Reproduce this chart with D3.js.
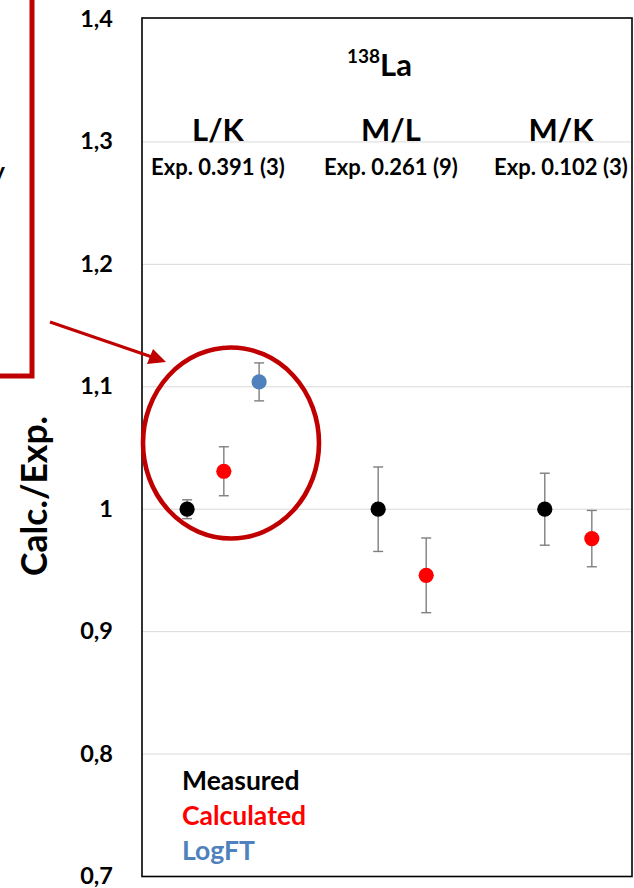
<!DOCTYPE html>
<html>
<head>
<meta charset="utf-8">
<script src="https://cdn.jsdelivr.net/npm/d3@7"></script>
<style>
  body { margin: 0; background: #fff; }
  svg text { font-family: Lato, "Open Sans", sans-serif; font-weight: bold; }
</style>
</head>
<body>
<svg id="chart" width="634" height="888"></svg>
<script>
// ---- data ----
var groups = ["L/K", "M/L", "M/K"],
	expLabels = ["Exp. 0.391 (3)", "Exp. 0.261 (9)", "Exp. 0.102 (3)"],
	groupX = [1.55, 5.08, 8.55];

var seriesNames = ["Measured", "Calculated", "LogFT"],
	seriesColors = ["#000000", "#ff0000", "#4f81bd"];

// x position inside the plot, ratio, +/- error
var measuredX = [0.92, 4.82, 8.22],
	measuredY = [1.0, 1.0, 1.0],
	measuredErr = [0.0077, 0.0345, 0.0294];

var calculatedX = [1.67, 5.80, 9.18],
	calculatedY = [1.031, 0.946, 0.976],
	calculatedErr = [0.020, 0.0305, 0.023];

var logftX = [2.39],
	logftY = [1.104],
	logftErr = [0.0155];

var yTicks = [0.7, 0.8, 0.9, 1.0, 1.1, 1.2, 1.3, 1.4];

// ---- layout ----
var svg = d3.select("#chart");
var plot = {left: 142, right: 632, top: 19.5, bottom: 876.5};

var x = d3.scaleLinear().domain([0, 10]).range([plot.left, plot.right]);
var y = d3.scaleLinear().domain([0.7, 1.4]).range([plot.bottom, plot.top]);

var fmt = function(d) { return d === 1 ? "1" : d3.format(".1f")(d).replace(".", ","); };

// gridlines
svg.append("g")
	.selectAll("line")
	.data(yTicks.filter(function(d) { return d > 0.7 && d < 1.4; }))
	.enter().append("line")
	.attr("x1", plot.left).attr("x2", plot.right)
	.attr("y1", function(d) { return y(d); })
	.attr("y2", function(d) { return y(d); })
	.attr("stroke", "#d9d9d9")
	.attr("stroke-width", 1);

// y axis labels (no tick marks)
var yAxis = d3.axisLeft(y).tickValues(yTicks).tickFormat(fmt).tickSize(0).tickPadding(29);
var ay = svg.append("g").attr("transform", "translate(" + plot.left + ",0)").call(yAxis);
ay.select(".domain").remove();
ay.selectAll("text")
	.attr("font-family", "Lato")
	.attr("font-weight", "bold")
	.attr("font-size", 23.5)
	.attr("dy", "0.3em")
	.attr("fill", "#000");

// plot frame
svg.append("rect")
	.attr("x", plot.left).attr("y", plot.top - 1.5)
	.attr("width", plot.right - plot.left)
	.attr("height", plot.bottom - plot.top + 1.5)
	.attr("fill", "none")
	.attr("stroke", "#000")
	.attr("stroke-width", 1.6);

// y axis title
svg.append("text")
	.attr("transform", "translate(47,496) rotate(-90)")
	.attr("text-anchor", "middle")
	.attr("font-size", 35.5)
	.text("Calc./Exp.");

// isotope title
var title = svg.append("text").attr("x", 347).attr("y", 76);
title.append("tspan").attr("font-size", 19).attr("dy", -13).text("138");
title.append("tspan").attr("font-size", 31).attr("dy", 13).text("La");

// group labels
svg.append("g").selectAll("text")
	.data(groups).enter().append("text")
	.attr("x", function(d, i) { return x(groupX[i]); })
	.attr("y", 141)
	.attr("text-anchor", "middle")
	.attr("font-size", 31)
	.text(function(d) { return d; });

svg.append("g").selectAll("text")
	.data(expLabels).enter().append("text")
	.attr("x", function(d, i) { return x(groupX[i]); })
	.attr("y", 175)
	.attr("text-anchor", "middle")
	.attr("font-size", 22)
	.text(function(d) { return d; });

// points with error bars
var series = [
	{xs: measuredX, ys: measuredY, es: measuredErr, color: seriesColors[0]},
	{xs: calculatedX, ys: calculatedY, es: calculatedErr, color: seriesColors[1]},
	{xs: logftX, ys: logftY, es: logftErr, color: seriesColors[2]}
];

var cap = 5;
series.forEach(function(s) {
	var pts = s.xs.map(function(v, i) { return {x: v, y: s.ys[i], e: s.es[i]}; });
	var g = svg.append("g");
	var eb = g.selectAll("g.err").data(pts).enter().append("g")
		.attr("stroke", "#7f7f7f").attr("stroke-width", 1.4);
	eb.append("line")
		.attr("x1", function(d) { return x(d.x); }).attr("x2", function(d) { return x(d.x); })
		.attr("y1", function(d) { return y(d.y + d.e); }).attr("y2", function(d) { return y(d.y - d.e); });
	eb.append("line")
		.attr("x1", function(d) { return x(d.x) - cap; }).attr("x2", function(d) { return x(d.x) + cap; })
		.attr("y1", function(d) { return y(d.y + d.e); }).attr("y2", function(d) { return y(d.y + d.e); });
	eb.append("line")
		.attr("x1", function(d) { return x(d.x) - cap; }).attr("x2", function(d) { return x(d.x) + cap; })
		.attr("y1", function(d) { return y(d.y - d.e); }).attr("y2", function(d) { return y(d.y - d.e); });
	g.selectAll("circle").data(pts).enter().append("circle")
		.attr("cx", function(d) { return x(d.x); })
		.attr("cy", function(d) { return y(d.y); })
		.attr("r", 7.6)
		.attr("fill", s.color);
});

// legend (text only)
svg.append("g").selectAll("text")
	.data(seriesNames).enter().append("text")
	.attr("x", 182)
	.attr("y", function(d, i) { return 790 + i * 35; })
	.attr("font-size", 26.5)
	.attr("fill", function(d, i) { return seriesColors[i]; })
	.text(function(d) { return d; });

// annotation: highlight circle, arrow and the boxed note cut off at the left
var anno = "#c00000";
svg.append("ellipse")
	.attr("cx", 231).attr("cy", 443)
	.attr("rx", 88).attr("ry", 95.5)
	.attr("fill", "none").attr("stroke", anno).attr("stroke-width", 4.6);

svg.append("line")
	.attr("x1", 50).attr("y1", 322).attr("x2", 152).attr("y2", 357)
	.attr("stroke", anno).attr("stroke-width", 3);
svg.append("polygon")
	.attr("points", "166,362 147,364 153,349")
	.attr("fill", anno);

svg.append("rect")
	.attr("x", -20).attr("y", -20)
	.attr("width", 52).attr("height", 396)
	.attr("fill", "none").attr("stroke", anno).attr("stroke-width", 5);

svg.append("text")
	.attr("x", 5).attr("y", 180)
	.attr("text-anchor", "end")
	.attr("font-size", 24)
	.text("y");
</script>
</body>
</html>
